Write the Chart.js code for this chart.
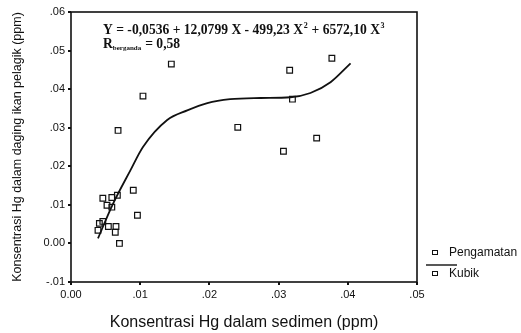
<!DOCTYPE html>
<html>
<head>
<meta charset="utf-8">
<script src="https://cdn.jsdelivr.net/npm/chart.js@4.4.1/dist/chart.umd.min.js"></script>
<style>
html,body{margin:0;padding:0;background:#fff;}
#wrap{width:521px;height:333px;position:relative;}
</style>
</head>
<body>
<div id="wrap"><canvas id="c" width="521" height="333"></canvas></div>
<script>
// Observed data (Pengamatan)
const obsX = [0.0145,0.0104,0.0068,0.0241,0.0377,0.0316,0.0320,0.0355,0.0307,
              0.0046,0.0059,0.0067,0.0090,0.0052,0.0059,0.0096,0.0046,0.0041,0.0039,0.0054,0.0065,0.0064,0.0070];
const obsY = [0.0465,0.0382,0.0293,0.0301,0.0480,0.0449,0.0374,0.0273,0.0239,
              0.0117,0.0119,0.0125,0.0138,0.0099,0.0094,0.0073,0.0057,0.0052,0.0034,0.0044,0.0044,0.0029,0.0000];
// Fitted cubic curve (Kubik)
const curveX = [0.0039,0.0060,0.0086,0.0104,0.0139,0.0168,0.0197,0.0230,0.0274,0.0317,0.0346,0.0375,0.0404];
const curveY = [0.0013,0.0100,0.0190,0.0250,0.0320,0.0345,0.0364,0.0374,0.0377,0.0379,0.0390,0.0418,0.0467];
// Tick labels
const xTickValues = [0,0.01,0.02,0.03,0.04,0.05];
const xTickLabels = ['0.00','.01','.02','.03','.04','.05'];
const yTickValues = [-0.01,0,0.01,0.02,0.03,0.04,0.05,0.06];
const yTickLabels = ['-.01','0.00','.01','.02','.03','.04','.05','.06'];
const legendLabels = ['Pengamatan','Kubik'];
const equationText = 'Y = -0,0536 + 12,0799 X - 499,23 X';
const rText = '= 0,58';

function lab(values, labels, v){
  for(let i=0;i<values.length;i++){ if(Math.abs(values[i]-v)<1e-9) return labels[i]; }
  return '';
}

const framePlugin = {
  id:'frame',
  afterDraw(chart){
    const ctx = chart.ctx, a = chart.chartArea;
    ctx.save();
    ctx.strokeStyle='#111';
    ctx.lineWidth=1.6;
    ctx.strokeRect(a.left, a.top, a.right-a.left, a.bottom-a.top);
    // Equation
    const big='bold 13.6px "Liberation Serif", "Times New Roman", serif';
    ctx.fillStyle='#111';
    ctx.textBaseline='alphabetic';
    ctx.font=big;
    let x = 103, y = 34;
    ctx.fillText(equationText, x, y);
    x += ctx.measureText(equationText).width;
    ctx.font='bold 8px "Liberation Serif", serif';
    ctx.fillText('2', x+0.5, y-6);
    x += ctx.measureText('2').width + 1;
    ctx.font=big;
    const t2 = ' + 6572,10 X';
    ctx.fillText(t2, x, y);
    x += ctx.measureText(t2).width;
    ctx.font='bold 8px "Liberation Serif", serif';
    ctx.fillText('3', x+0.5, y-6);
    // R berganda
    ctx.font=big;
    ctx.fillText('R', 103, 48);
    let rx = 103 + ctx.measureText('R').width;
    ctx.font='bold 7px "Liberation Serif", serif';
    ctx.fillText('berganda', rx, 50);
    rx += ctx.measureText('berganda').width + 4;
    ctx.font=big;
    ctx.fillText(rText, rx, 48);
    // Legend
    ctx.lineWidth=1;
    ctx.strokeStyle='#111';
    ctx.strokeRect(432.5, 250.5, 5, 4);
    ctx.strokeRect(432.5, 271.5, 5, 4);
    ctx.lineWidth=1.4;
    ctx.beginPath(); ctx.moveTo(426,265); ctx.lineTo(457,265); ctx.stroke();
    ctx.font='12px "Liberation Sans", Arial, sans-serif';
    ctx.textBaseline='middle';
    ctx.fillText(legendLabels[0], 449, 253);
    ctx.fillText(legendLabels[1], 449, 274);
    ctx.restore();
  }
};

const obsData = obsX.map((x,i)=>({x:x,y:obsY[i]}));
const curveData = curveX.map((x,i)=>({x:x,y:curveY[i]}));

new Chart(document.getElementById('c'), {
  type:'scatter',
  data:{
    datasets:[
      {label:legendLabels[0], data:obsData, pointStyle:'rect', pointRadius:4, pointHoverRadius:4,
       borderColor:'#111', backgroundColor:'rgba(0,0,0,0)', borderWidth:1.2, showLine:false},
      {label:legendLabels[1], type:'line', data:curveData, borderColor:'#111', borderWidth:1.8,
       pointRadius:0, fill:false, cubicInterpolationMode:'monotone', showLine:true}
    ]
  },
  options:{
    responsive:false, animation:false, devicePixelRatio:1,
    layout:{padding:{top:12,right:104,left:0,bottom:0}},
    plugins:{legend:{display:false}, tooltip:{enabled:false}},
    scales:{
      x:{type:'linear', min:0, max:0.05,
         afterFit(s){ s.height = 51; },
         afterBuildTicks(s){ s.ticks = xTickValues.map(v=>({value:v})); },
         grid:{drawOnChartArea:false, drawTicks:true, tickLength:3, color:'#111', lineWidth:2},
         border:{display:false},
         ticks:{color:'#111', padding:3, maxRotation:0, font:{family:'"Liberation Sans", Arial, sans-serif', size:11},
                callback:(v)=>lab(xTickValues,xTickLabels,v)},
         title:{display:true, text:'Konsentrasi Hg dalam sedimen (ppm)', color:'#111',
                font:{family:'"Liberation Sans", Arial, sans-serif', size:16}, padding:{top:14,bottom:1}}
      },
      y:{type:'linear', min:-0.01, max:0.06,
         afterFit(s){ s.width = 71; },
         afterBuildTicks(s){ s.ticks = yTickValues.map(v=>({value:v})); },
         grid:{drawOnChartArea:false, drawTicks:true, tickLength:3, color:'#111', lineWidth:2},
         border:{display:false},
         ticks:{color:'#111', padding:3, font:{family:'"Liberation Sans", Arial, sans-serif', size:11},
                callback:(v)=>lab(yTickValues,yTickLabels,v)},
         title:{display:true, text:'Konsentrasi Hg dalam daging ikan pelagik (ppm)', color:'#111',
                font:{family:'"Liberation Sans", Arial, sans-serif', size:12.5}, padding:{top:10,bottom:0}}
      }
    }
  },
  plugins:[framePlugin]
});
</script>
</body>
</html>
